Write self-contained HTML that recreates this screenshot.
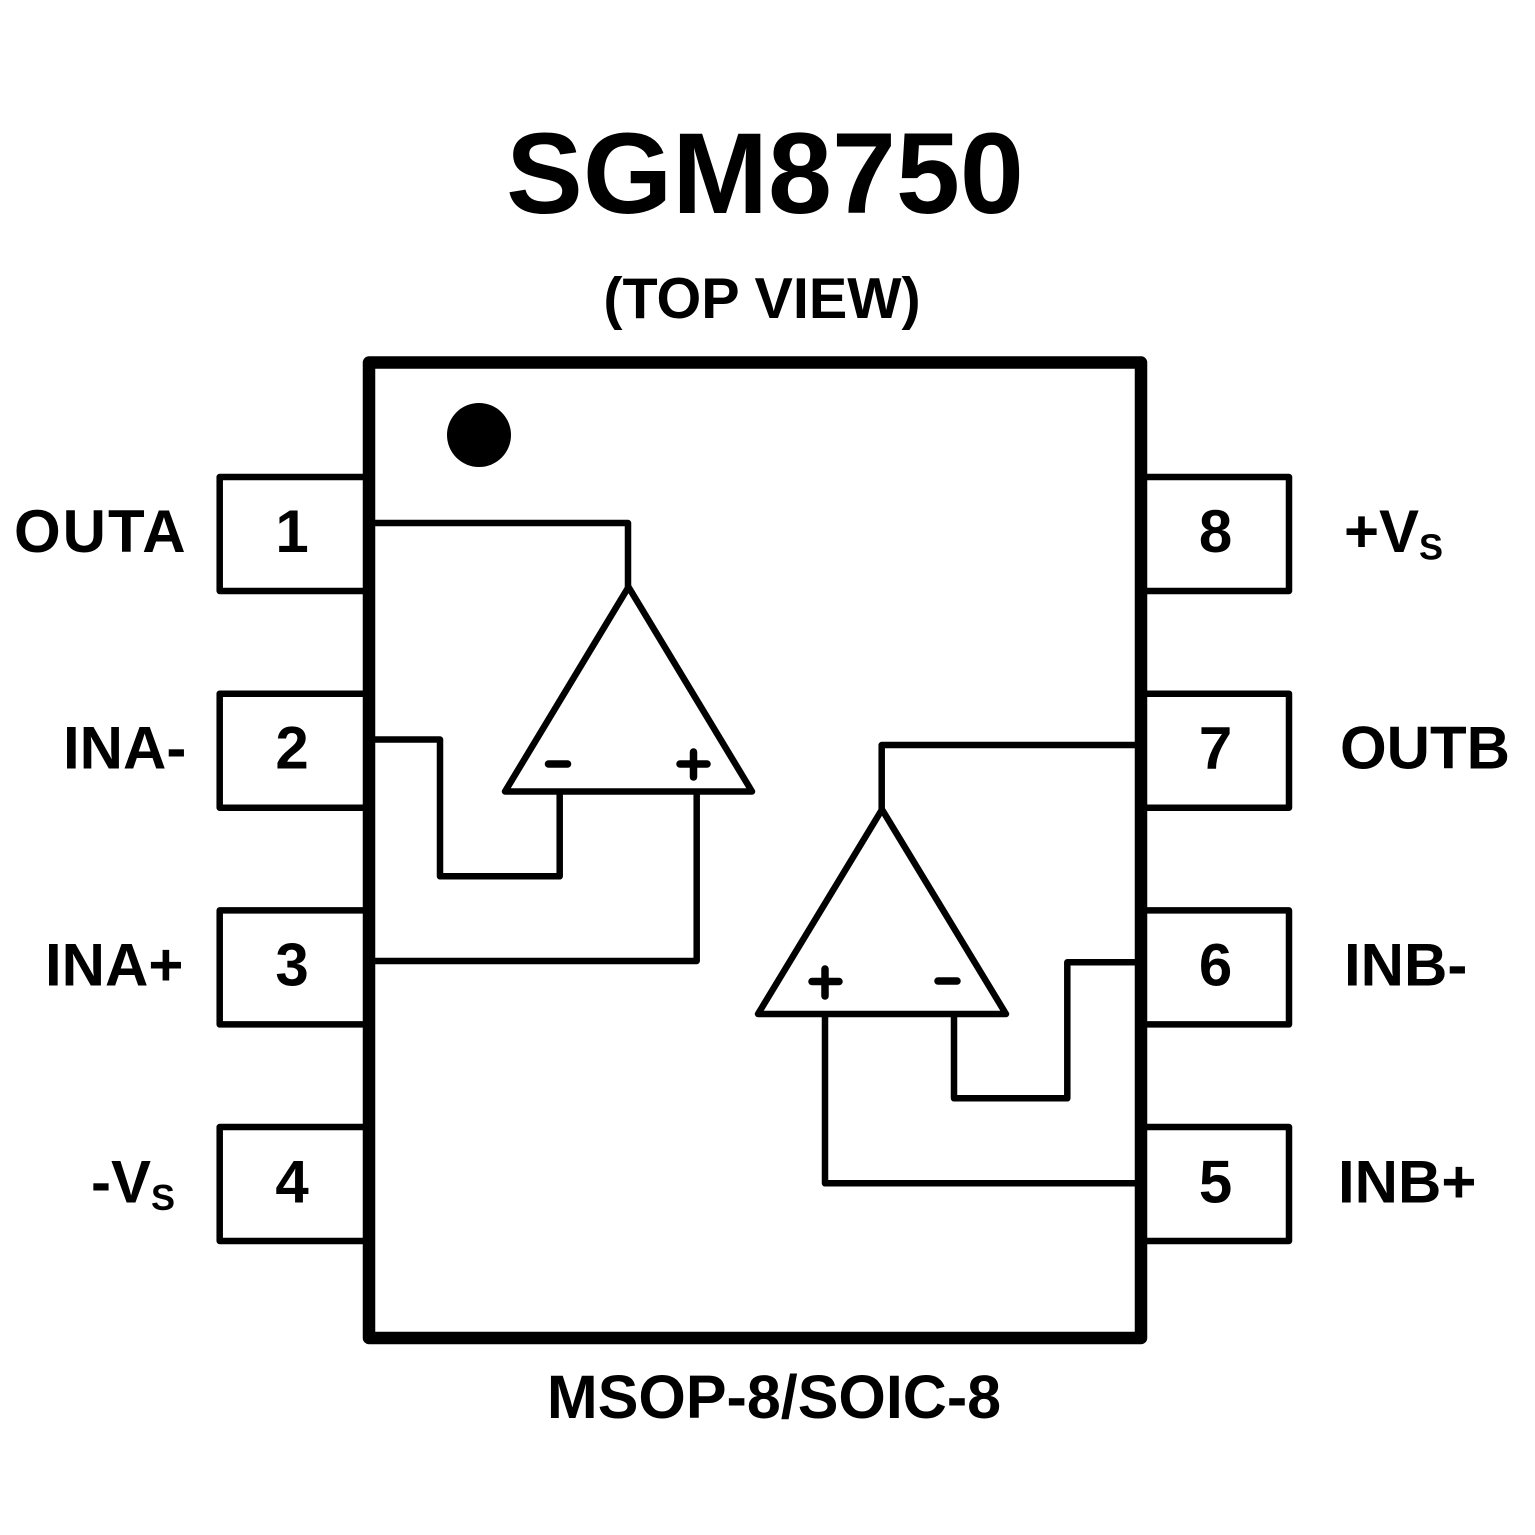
<!DOCTYPE html>
<html>
<head>
<meta charset="utf-8">
<style>
  html, body { margin: 0; padding: 0; background: #fff; }
  svg { display: block; }
  text { font-family: "Liberation Sans", Arial, sans-serif; font-weight: bold; fill: #000; }
</style>
</head>
<body>
<svg width="1535" height="1535" viewBox="0 0 1535 1535" xmlns="http://www.w3.org/2000/svg">
  <rect x="0" y="0" width="1535" height="1535" fill="#fff"/>

  <!-- Title -->
  <text x="765" y="213" font-size="115" text-anchor="middle">SGM8750</text>
  <text x="762" y="318" font-size="57.5" text-anchor="middle">(TOP VIEW)</text>

  <!-- Chip body -->
  <rect x="369" y="362.5" width="772" height="975.5" fill="none" stroke="#000" stroke-width="12.5" stroke-linejoin="round"/>

  <!-- Pin 1 dot -->
  <circle cx="479" cy="435" r="32" fill="#000"/>

  <!-- Left pin boxes -->
  <g fill="none" stroke="#000" stroke-width="6.5" stroke-linejoin="round">
    <path d="M363 477 H219.7 V591 H363"/>
    <path d="M363 693.7 H219.7 V807.7 H363"/>
    <path d="M363 910.4 H219.7 V1024.4 H363"/>
    <path d="M363 1127 H219.7 V1241 H363"/>
    <!-- Right pin boxes -->
    <path d="M1147 477 H1289 V591 H1147"/>
    <path d="M1147 693.7 H1289 V807.7 H1147"/>
    <path d="M1147 910.4 H1289 V1024.4 H1147"/>
    <path d="M1147 1127 H1289 V1241 H1147"/>
  </g>

  <!-- Pin numbers -->
  <g font-size="60" text-anchor="middle">
    <text x="292" y="552">1</text>
    <text x="292" y="768.7">2</text>
    <text x="292" y="985.4">3</text>
    <text x="292" y="1202.5">4</text>
    <text x="1215.5" y="552">8</text>
    <text x="1215.5" y="768.7">7</text>
    <text x="1215.5" y="985.4">6</text>
    <text x="1215.5" y="1202.5">5</text>
  </g>

  <!-- Left labels -->
  <g font-size="60">
    <text x="14" y="552" letter-spacing="2">OUTA</text>
    <text x="63" y="768.7">INA-</text>
    <text x="45" y="985.4">INA+</text>
    <text x="91" y="1202.5">-V</text>
    <text x="151" y="1210" font-size="36">S</text>
  </g>

  <!-- Right labels -->
  <g font-size="60">
    <text x="1344" y="552">+V</text>
    <text x="1419" y="559.5" font-size="36">S</text>
    <text x="1340" y="768.7">OUTB</text>
    <text x="1344" y="985.4">INB-</text>
    <text x="1338" y="1202.5">INB+</text>
  </g>

  <!-- Op-amp A -->
  <g fill="none" stroke="#000" stroke-width="6.5" stroke-linejoin="round">
    <polygon points="628.5,587 752,791.5 505,791.5"/>
    <path d="M375 523 H628 V587"/>
    <path d="M375 739.5 H440 V876.3 H559.7 V791.5"/>
    <path d="M696.7 791.5 V961 H375"/>
  </g>
  <g stroke="#000" stroke-width="7.5" stroke-linecap="round">
    <line x1="548.5" y1="764" x2="567.5" y2="764"/>
    <line x1="680" y1="764" x2="707" y2="764"/>
    <line x1="693.5" y1="752" x2="693.5" y2="777"/>
  </g>

  <!-- Op-amp B -->
  <g fill="none" stroke="#000" stroke-width="6.5" stroke-linejoin="round">
    <polygon points="882,809.5 1006,1014 758,1014"/>
    <path d="M1135 745 H881.7 V809.5"/>
    <path d="M825 1014 V1183.3 H1135"/>
    <path d="M954 1014 V1098.3 H1067.3 V962.3 H1135"/>
  </g>
  <g stroke="#000" stroke-width="7.5" stroke-linecap="round">
    <line x1="812" y1="981.5" x2="839" y2="981.5"/>
    <line x1="825" y1="969" x2="825" y2="996"/>
    <line x1="938" y1="981" x2="957" y2="981"/>
  </g>

  <!-- Package label -->
  <text x="774" y="1418" font-size="61" text-anchor="middle">MSOP-8/SOIC-8</text>
</svg>
</body>
</html>
